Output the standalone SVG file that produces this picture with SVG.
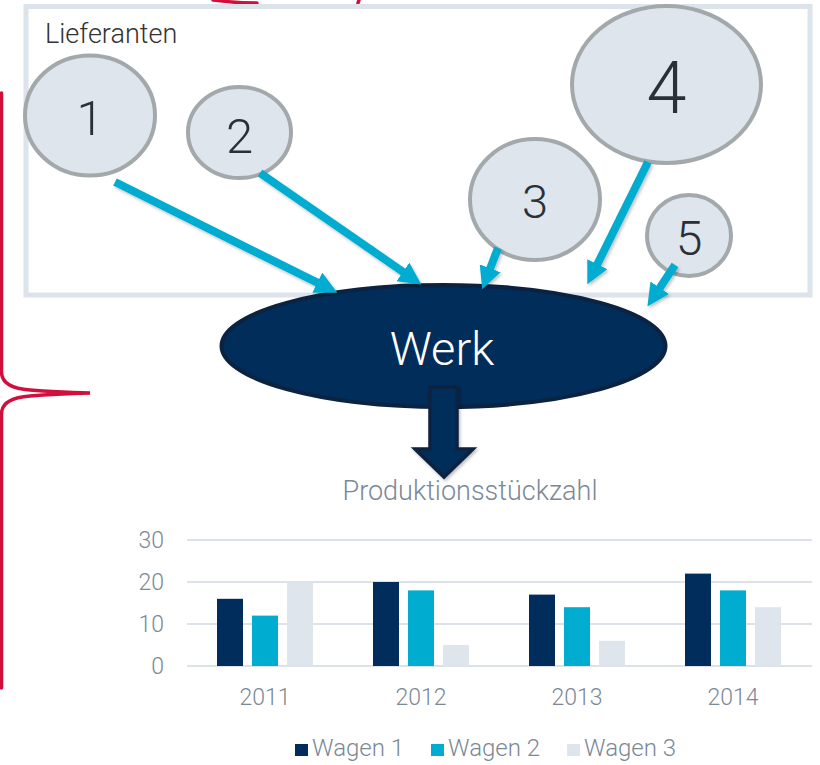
<svg xmlns="http://www.w3.org/2000/svg" width="820" height="765" viewBox="0 0 820 765">
<style>
  .lbl{font-family:Roboto,"Liberation Sans",Arial,sans-serif;font-weight:300}
  .sup ellipse{fill:#dfe5ed;stroke:#a3a8ab;stroke-width:4}
  .sup text{fill:#2b3038;text-anchor:middle}
  .conn line{stroke:#00acd0;stroke-width:8;marker-end:url(#ah)}
  .grid line{stroke:#dde2e8;stroke-width:2}
  .axis{fill:#7b8896;font-size:23px}
  .w1{fill:#002d5c}
  .w2{fill:#00accf}
  .w3{fill:#dfe5ed}
  .brace{fill:none;stroke:#d20f3c;stroke-width:3.5;stroke-linecap:round}
</style>
<defs>
  <marker id="ah" viewBox="0 0 10 10" refX="0.5" refY="5" markerWidth="2.8" markerHeight="2.8" orient="auto">
    <path d="M0,0 L10,5 L0,10 z" fill="#00acd0"/>
  </marker>
  <filter id="sh" x="-20%" y="-20%" width="140%" height="140%">
    <feDropShadow dx="1.5" dy="2" stdDeviation="1.5" flood-color="#000" flood-opacity="0.25"/>
  </filter>
</defs>

<g id="bracket">
  <path class="brace" d="M1.5,93 L1.5,372 Q1.5,388 30,390 Q55,392 90,393 Q55,394 30,396 Q1.5,398 1.5,414 L1.5,688"/>
  <path class="brace" d="M213,0 Q235,3 257,3"/>
  <path class="brace" d="M359,0 L358,3"/>
</g>

<g id="lieferanten">
  <rect x="26" y="6.5" width="784" height="288.5" fill="none" stroke="#dde3ea" stroke-width="5"/>
  <text class="lbl" x="45" y="43" font-size="27" fill="#333">Lieferanten</text>
</g>

<g id="s1" class="sup"><ellipse cx="90" cy="115.5" rx="65" ry="60"/><text class="lbl" x="90" y="135" font-size="49">1</text></g>
<g id="s2" class="sup"><ellipse cx="239.5" cy="132.5" rx="51.5" ry="45.5"/><text class="lbl" x="239.5" y="153" font-size="49">2</text></g>
<g id="s3" class="sup"><ellipse cx="535" cy="199.5" rx="65" ry="60.5"/><text class="lbl" x="535" y="218" font-size="47">3</text></g>
<g id="s4" class="sup"><ellipse cx="666.5" cy="84.5" rx="94.5" ry="78.5"/><text class="lbl" x="666.5" y="113" font-size="72">4</text></g>
<g id="s5" class="sup"><ellipse cx="689" cy="235.5" rx="42" ry="40.5"/><text class="lbl" x="689" y="255" font-size="48">5</text></g>

<g id="werk">
  <ellipse cx="443.5" cy="346" rx="222" ry="61" fill="#002d5a" stroke="#0b2340" stroke-width="4"/>
  <text class="lbl" x="442" y="365" font-size="47" fill="#ffffff" text-anchor="middle">Werk</text>
</g>

<g id="connectors" class="conn" filter="url(#sh)">
  <line x1="115" y1="182" x2="318.3" y2="283.2"/>
  <line x1="260" y1="173" x2="403.9" y2="272.5"/>
  <line x1="498" y1="248" x2="489.8" y2="269.4"/>
  <line x1="648" y1="162" x2="596.8" y2="265.3"/>
  <line x1="675" y1="265" x2="659.2" y2="288.7"/>
  <path d="M430,387 L457,387 L457,449 L473,449 L444,477 L415,449 L430,449 z" fill="#002d5a" stroke="#0b2340" stroke-width="3.5" stroke-linejoin="miter"/>
</g>

<g id="chart">
  <text class="lbl" x="470" y="500" font-size="27" fill="#7b8896" text-anchor="middle">Produktionsstückzahl</text>
  <g class="grid">
    <line x1="187" y1="540" x2="812" y2="540"/>
    <line x1="187" y1="582" x2="812" y2="582"/>
    <line x1="187" y1="624" x2="812" y2="624"/>
    <line x1="187" y1="666" x2="812" y2="666"/>
  </g>
  <g class="lbl axis" text-anchor="end">
    <text x="164" y="548">30</text>
    <text x="164" y="590">20</text>
    <text x="164" y="632">10</text>
    <text x="164" y="674">0</text>
  </g>
  <g id="bars">
    <rect class="w1" x="217" y="598.8" width="26" height="67.2"/>
    <rect class="w2" x="252" y="615.6" width="26" height="50.4"/>
    <rect class="w3" x="287" y="582" width="26" height="84"/>
    <rect class="w1" x="373" y="582" width="26" height="84"/>
    <rect class="w2" x="408" y="590.4" width="26" height="75.6"/>
    <rect class="w3" x="443" y="645" width="26" height="21"/>
    <rect class="w1" x="529" y="594.6" width="26" height="71.4"/>
    <rect class="w2" x="564" y="607.2" width="26" height="58.8"/>
    <rect class="w3" x="599" y="640.8" width="26" height="25.2"/>
    <rect class="w1" x="685" y="573.6" width="26" height="92.4"/>
    <rect class="w2" x="720" y="590.4" width="26" height="75.6"/>
    <rect class="w3" x="755" y="607.2" width="26" height="58.8"/>
  </g>
  <g class="lbl axis" text-anchor="middle">
    <text x="265" y="705">2011</text>
    <text x="421" y="705">2012</text>
    <text x="577" y="705">2013</text>
    <text x="733" y="705">2014</text>
  </g>
  <g id="legend" class="lbl axis">
    <rect class="w1" x="295" y="744" width="13" height="12"/>
    <text x="312" y="756" font-size="24">Wagen 1</text>
    <rect class="w2" x="431" y="744" width="13" height="12"/>
    <text x="448" y="756" font-size="24">Wagen 2</text>
    <rect class="w3" x="567" y="744" width="13" height="12"/>
    <text x="584" y="756" font-size="24">Wagen 3</text>
  </g>
</g>
</svg>
